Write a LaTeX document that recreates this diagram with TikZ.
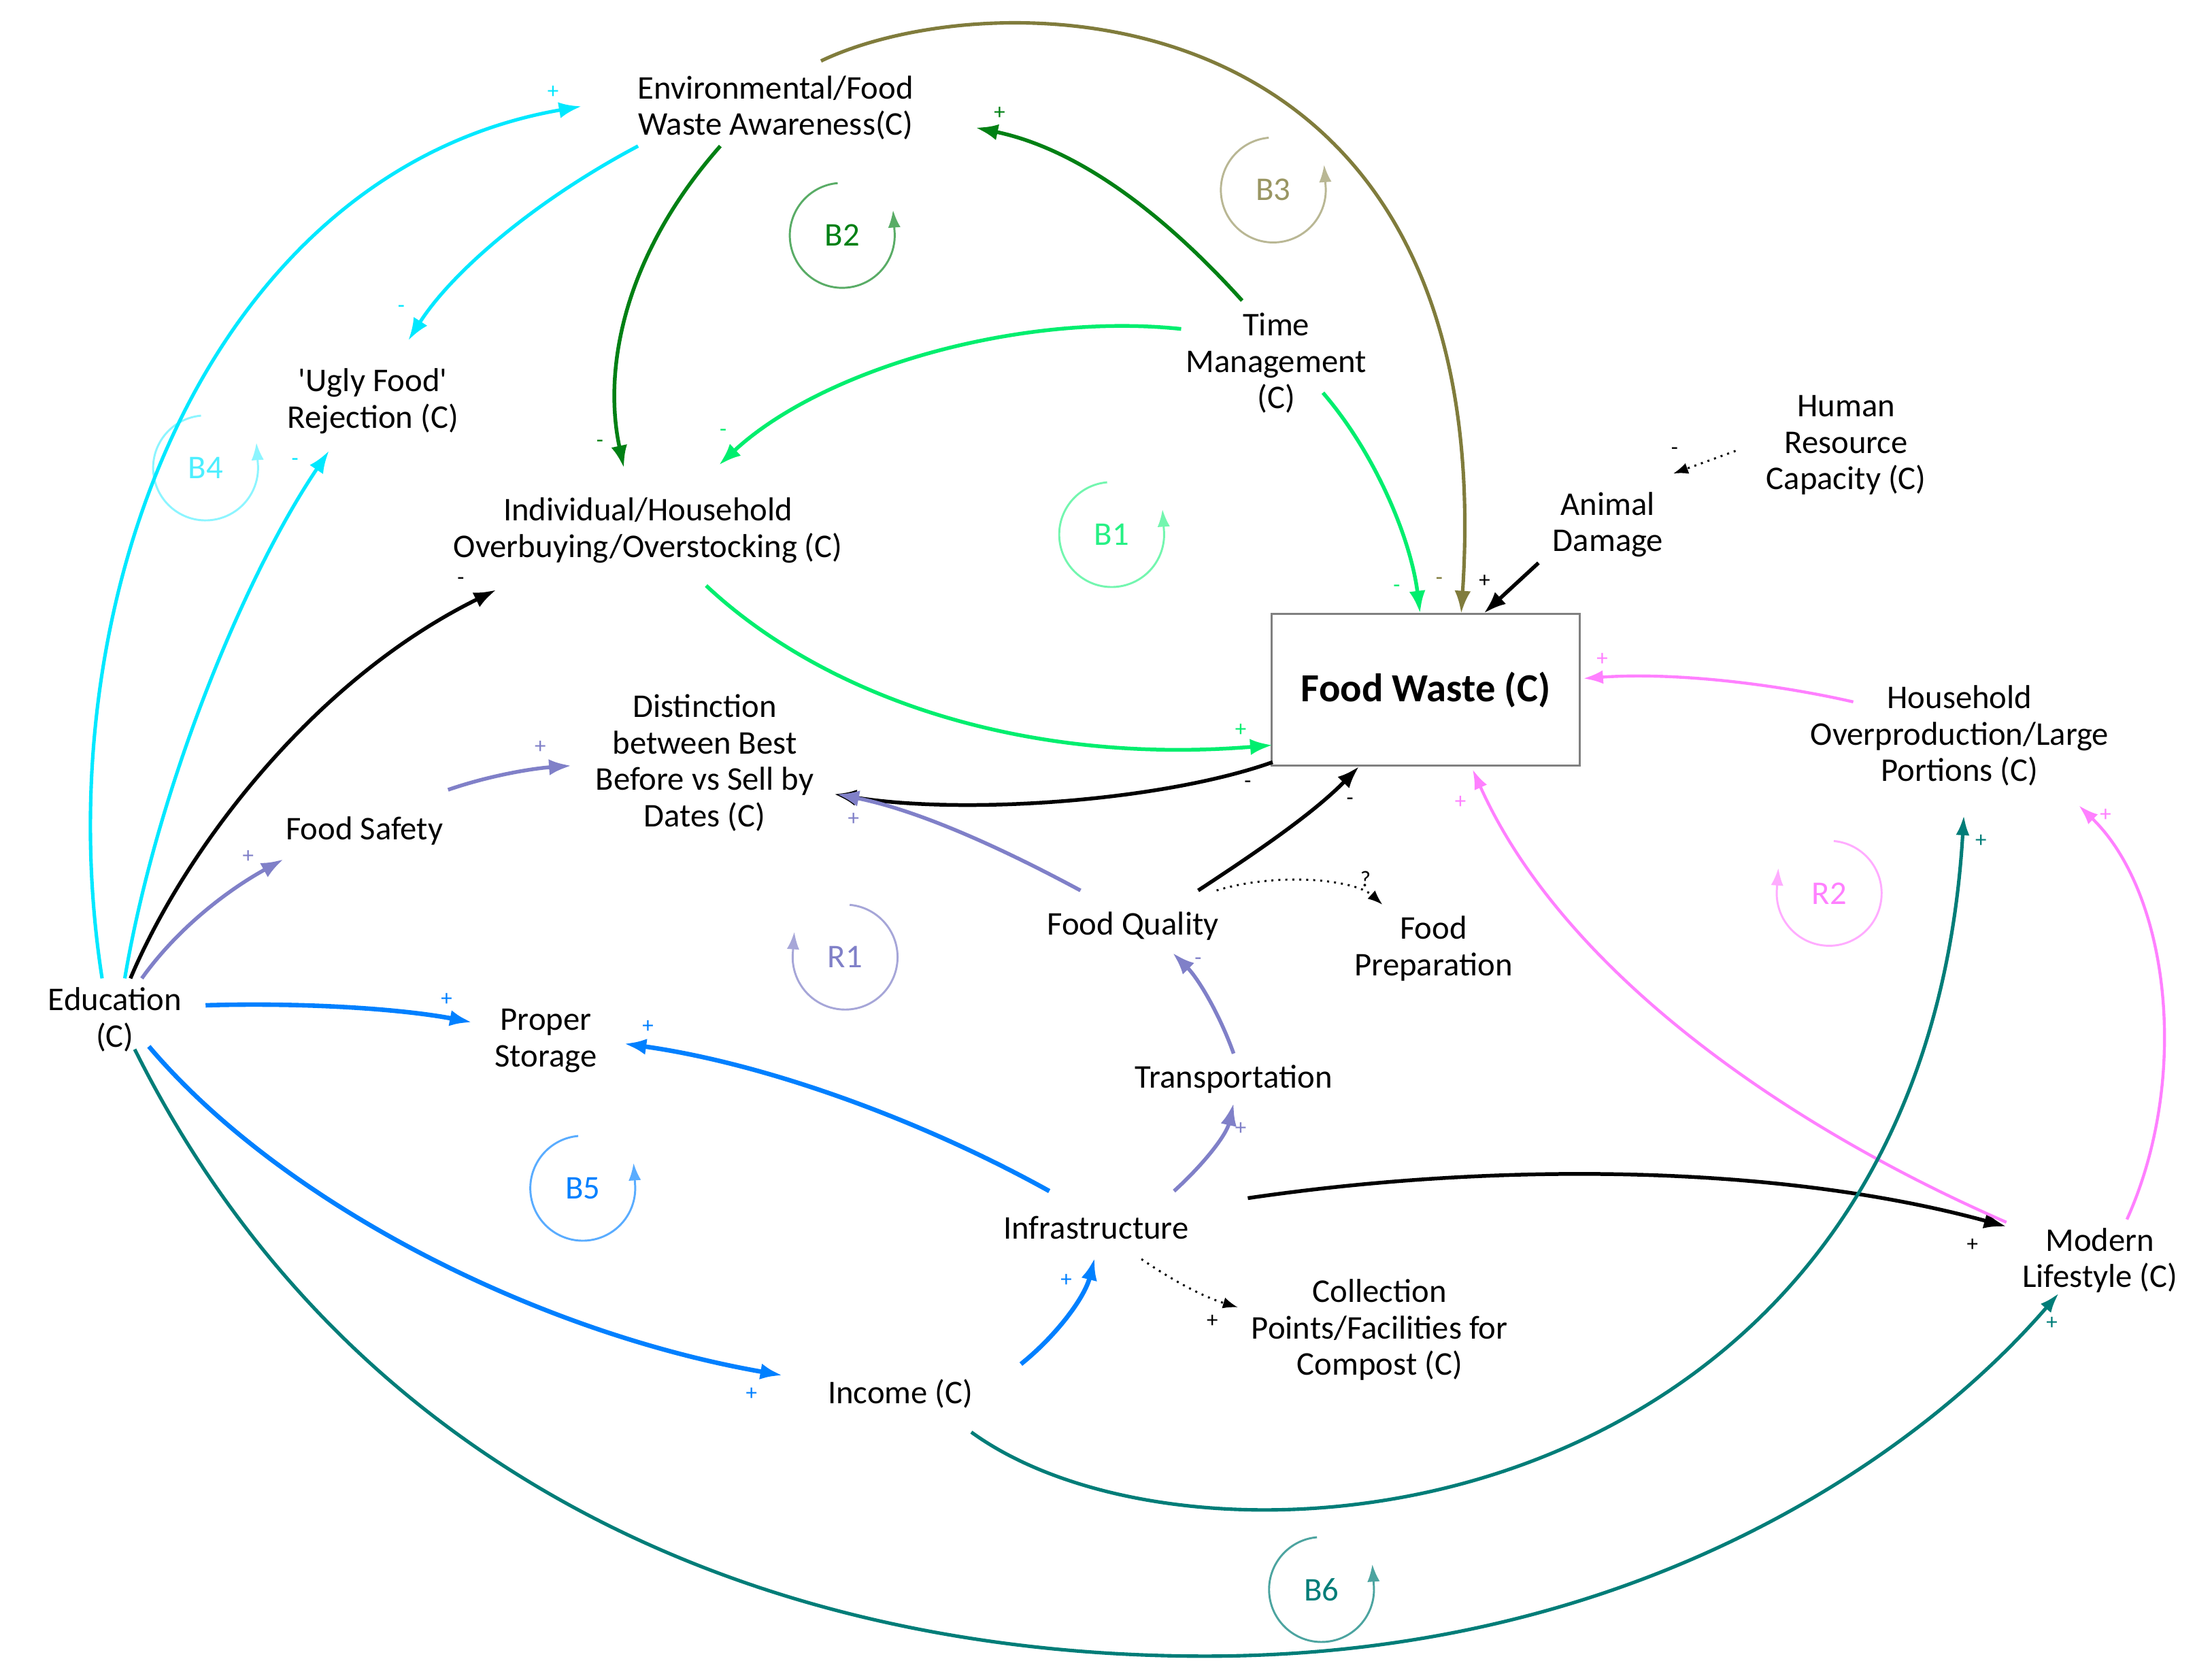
\documentclass[tikz,border=0pt]{standalone}
\usepackage{fontspec}
\setmainfont{Carlito}
\usetikzlibrary{arrows.meta,calc}
\definecolor{cyanC}{RGB}{0,232,255}
\definecolor{dkgreenC}{RGB}{0,128,20}
\definecolor{ltgreenC}{RGB}{0,238,110}
\definecolor{oliveC}{RGB}{128,124,60}
\definecolor{purpleC}{RGB}{128,128,200}
\definecolor{blueC}{RGB}{0,128,255}
\definecolor{pinkC}{RGB}{255,128,255}
\definecolor{tealC}{RGB}{0,125,120}
\definecolor{boxgray}{RGB}{128,128,128}
\newcommand{\balloop}[6]{%
  \node[lbl,text=#5] (#1) at (#2,#3) {#6};
  \begin{scope}[shift={(#2,#3)},x=0.02cm,y=0.02cm]
    \draw[#4,line width=0.8pt,-{Latex[length=7pt,width=5pt]}] (95:37) arc[start angle=95,end angle=366,radius=37] -- ++(94:14);
  \end{scope}}
\newcommand{\reinloop}[6]{%
  \node[lbl,text=#5] (#1) at (#2,#3) {#6};
  \begin{scope}[shift={(#2,#3)},x=0.02cm,y=0.02cm]
    \draw[#4,line width=0.8pt,-{Latex[length=7pt,width=5pt]}] (85:37) arc[start angle=85,end angle=-186,radius=37] -- ++(86:14);
  \end{scope}}
\begin{document}
\begin{tikzpicture}[x=0.02cm,y=-0.02cm,
  lbl/.style={align=center,inner sep=0pt,font=\fontsize{13.3}{14.6}\selectfont},
  sgn/.style={inner sep=0pt,font=\fontsize{9}{9}\selectfont},
  lnk/.style={line width=1.5pt,-{Latex[length=9pt,width=6.5pt]}},
  lnkthin/.style={line width=1.2pt,-{Latex[length=8pt,width=5.5pt]}},
  dotlnk/.style={line width=0.8pt,dotted,-{Latex[length=6pt,width=4.5pt]}}]
\fill[white] (0,0) rectangle (1560,1182);
\useasboundingbox (0,0) rectangle (1560,1182);

% variables
\node[lbl] (env) at (547,76) {Environmental/Food\\Waste Awareness(C)};
\node[lbl] (ugly) at (263,283) {\textquotesingle Ugly Food\textquotesingle\\Rejection (C)};
\node[lbl] (indiv) at (457,374) {Individual/Household\\Overbuying/Overstocking (C)};
\node[lbl] (time) at (900,256) {Time\\Management\\(C)};
\node[lbl] (human) at (1302,314) {Human\\Resource\\Capacity (C)};
\node[lbl] (animal) at (1134,370) {Animal\\Damage};
\node[draw=boxgray,line width=0.8pt,minimum width=4.34cm,minimum height=2.14cm,inner sep=0pt,font=\fontsize{16}{18}\selectfont\bfseries] (fw) at (1005.5,486.5) {Food Waste (C)};
\node[lbl] (house) at (1382,519) {Household\\Overproduction/Large\\Portions (C)};
\node[lbl] (dist) at (497,538) {Distinction\\between Best\\Before vs Sell by\\Dates (C)};
\node[lbl] (fsafe) at (257,586) {Food Safety};
\node[lbl] (edu) at (81,719) {Education\\(C)};
\node[lbl] (proper) at (385,734) {Proper\\Storage};
\node[lbl] (fq) at (799,653) {Food Quality};
\node[lbl] (fprep) at (1011,669) {Food\\Preparation};
\node[lbl] (trans) at (870,761) {Transportation};
\node[lbl] (infra) at (773,866) {Infrastructure};
\node[lbl] (coll) at (973,938) {Collection\\Points/Facilities for\\Compost (C)};
\node[lbl] (income) at (635,983) {Income (C)};
\node[lbl] (modern) at (1481,889) {Modern\\Lifestyle (C)};

% loop markers
\balloop{lB2}{594}{166}{dkgreenC!65}{dkgreenC}{B2}
\balloop{lB3}{898}{134}{oliveC!55}{oliveC!80}{B3}
\balloop{lB1}{784}{377}{ltgreenC!55}{ltgreenC!85}{B1}
\balloop{lB4}{145}{330}{cyanC!45}{cyanC!70}{B4}
\reinloop{lR1}{596}{675}{purpleC!70}{purpleC}{R1}
\balloop{lB5}{411}{838}{blueC!65}{blueC}{B5}
\reinloop{lR2}{1290}{630}{pinkC!65}{pinkC}{R2}
\balloop{lB6}{932}{1121}{tealC!70}{tealC}{B6}

% connectors
\draw[lnk,cyanC,line width=1.4pt] ($(edu)+(-9,-29)$) .. controls (30,420) and (150,120) .. ($(env)+(-137,-1)$);
\draw[lnk,cyanC,line width=1.4pt] ($(env)+(-97,27)$) .. controls (380,140) and (320,190) .. ($(ugly)+(25,-43)$);
\draw[lnk,cyanC,line width=1.4pt] ($(edu)+(7,-29)$) .. controls (110,560) and (170,410) .. ($(ugly)+(-31,35)$);
\draw[lnk,dkgreenC] ($(env)+(-39,27)$) .. controls (440,180) and (425,260) .. ($(indiv)+(-17,-44)$);
\draw[lnk,dkgreenC] ($(time)+(-24,-44)$) .. controls (820,150) and (760,105) .. ($(env)+(141,14)$);
\draw[lnk,ltgreenC] ($(time)+(-67,-24)$) .. controls (720,220) and (580,260) .. ($(indiv)+(50,-46)$);
\draw[lnk,ltgreenC] ($(time)+(33,21)$) .. controls (970,320) and (995,380) .. ($(fw)+(-4,-54)$);
\draw[lnk,oliveC,line width=1.4pt] ($(env)+(32,-33)$) .. controls (700,-15) and (1060,-15) .. ($(fw)+(25,-54)$);
\draw[lnk,black] ($(animal)+(-49,27)$) -- ($(fw)+(41,-54)$);
\draw[dotlnk,black] ($(human)+(-78,4)$) -- ($(animal)+(46,-36)$);
\draw[lnk,ltgreenC] ($(indiv)+(41,39)$) .. controls (580,490) and (720,540) .. ($(fw)+(-108,39)$);
\draw[lnk,black] ($(edu)+(11,-29)$) .. controls (130,600) and (220,480) .. ($(indiv)+(-107,42)$);
\draw[lnk,black] ($(fw)+(-108,51)$) .. controls (820,565) and (680,575) .. ($(dist)+(91,22)$);
\draw[lnk,purpleC] ($(fsafe)+(59,-29)$) .. controls (345,547) and (375,542) .. ($(dist)+(-94,2)$);
\draw[lnk,purpleC] ($(edu)+(19,-29)$) .. controls (125,655) and (160,628) .. ($(fsafe)+(-57,20)$);
\draw[lnk,purpleC] ($(fq)+(-37,-25)$) .. controls (710,600) and (650,572) .. ($(dist)+(93,22)$);
\draw[lnk,black] ($(fq)+(46,-25)$) .. controls (880,605) and (925,575) .. ($(fw)+(-47,54)$);
\draw[dotlnk,black] ($(fq)+(59,-25)$) .. controls (900,615) and (955,620) .. ($(fprep)+(-36,-31)$);
\draw[lnk,purpleC] ($(trans)+(0,-18)$) .. controls (860,715) and (845,690) .. ($(fq)+(28,19)$);
\draw[lnk,purpleC] ($(infra)+(55,-26)$) .. controls (850,820) and (865,800) .. ($(trans)+(0,17)$);
\draw[lnk,blueC,line width=1.8pt] ($(edu)+(64,-10)$) .. controls (210,707) and (280,711) .. ($(proper)+(-52,-13)$);
\draw[lnk,blueC,line width=1.8pt] ($(infra)+(-33,-26)$) .. controls (650,790) and (540,750) .. ($(proper)+(55,2)$);
\draw[lnk,blueC,line width=1.8pt] ($(edu)+(24,19)$) .. controls (200,850) and (380,940) .. ($(income)+(-83,-13)$);
\draw[lnk,blueC,line width=1.8pt] ($(income)+(85,-21)$) .. controls (745,942) and (765,915) .. ($(infra)+(-1,21)$);
\draw[dotlnk,black] ($(infra)+(32,22)$) .. controls (830,905) and (850,915) .. ($(coll)+(-100,-16)$);
\draw[lnk,black] ($(infra)+(107,-21)$) .. controls (1050,820) and (1250,820) .. ($(modern)+(-66,-24)$);
\draw[lnkthin,pinkC] ($(modern)+(-66,-27)$) .. controls (1250,790) and (1100,680) .. ($(fw)+(33,56)$);
\draw[lnkthin,pinkC] ($(house)+(-75,-24)$) .. controls (1250,482) and (1180,474) .. ($(fw)+(111,-8)$);
\draw[lnkthin,pinkC] ($(modern)+(19,-29)$) .. controls (1545,760) and (1530,630) .. ($(house)+(84,49)$);
\draw[lnkthin,tealC,line width=1.4pt] ($(income)+(50,27)$) .. controls (850,1130) and (1355,1080) .. ($(house)+(3,56)$);
\draw[lnkthin,tealC,line width=1.4pt] ($(edu)+(14,21)$) .. controls (250,1050) and (550,1168) .. (850,1168) .. controls (1150,1168) and (1350,1030) .. ($(modern)+(-29,23)$);

% polarity signs
\node[sgn,text=cyanC] (s1) at (390,65) {+};
\node[sgn,text=cyanC] (s2) at (283,218) {-};
\node[sgn,text=cyanC] (s3) at (208,326) {-};
\node[sgn,text=dkgreenC] (s4) at (423,313) {-};
\node[sgn,text=dkgreenC] (s5) at (705,80) {+};
\node[sgn,text=ltgreenC] (s6) at (510,305) {-};
\node[sgn,text=ltgreenC] (s7) at (985,415) {-};
\node[sgn,text=oliveC] (s8) at (1015,410) {-};
\node[sgn] (s9) at (1047,410) {+};
\node[sgn] (s10) at (1181,318) {-};
\node[sgn,text=ltgreenC] (s11) at (875,515) {+};
\node[sgn] (s12) at (325,410) {-};
\node[sgn] (s13) at (880,553) {-};
\node[sgn,text=purpleC] (s14) at (381,527) {+};
\node[sgn,text=purpleC] (s15) at (175,604) {+};
\node[sgn,text=purpleC] (s16) at (602,578) {+};
\node[sgn] (s17) at (952,565) {-};
\node[sgn] (s18) at (963,620) {?};
\node[sgn,text=purpleC] (s19) at (845,678) {-};
\node[sgn,text=purpleC] (s20) at (875,796) {+};
\node[sgn,text=blueC] (s21) at (315,705) {+};
\node[sgn,text=blueC] (s22) at (457,724) {+};
\node[sgn,text=blueC] (s23) at (530,983) {+};
\node[sgn,text=blueC] (s24) at (752,903) {+};
\node[sgn] (s25) at (855,932) {+};
\node[sgn] (s26) at (1391,878) {+};
\node[sgn,text=pinkC] (s27) at (1030,566) {+};
\node[sgn,text=pinkC] (s28) at (1130,465) {+};
\node[sgn,text=pinkC] (s29) at (1485,575) {+};
\node[sgn,text=tealC] (s30) at (1397,593) {+};
\node[sgn,text=tealC] (s31) at (1447,933) {+};
\end{tikzpicture}
\end{document}
